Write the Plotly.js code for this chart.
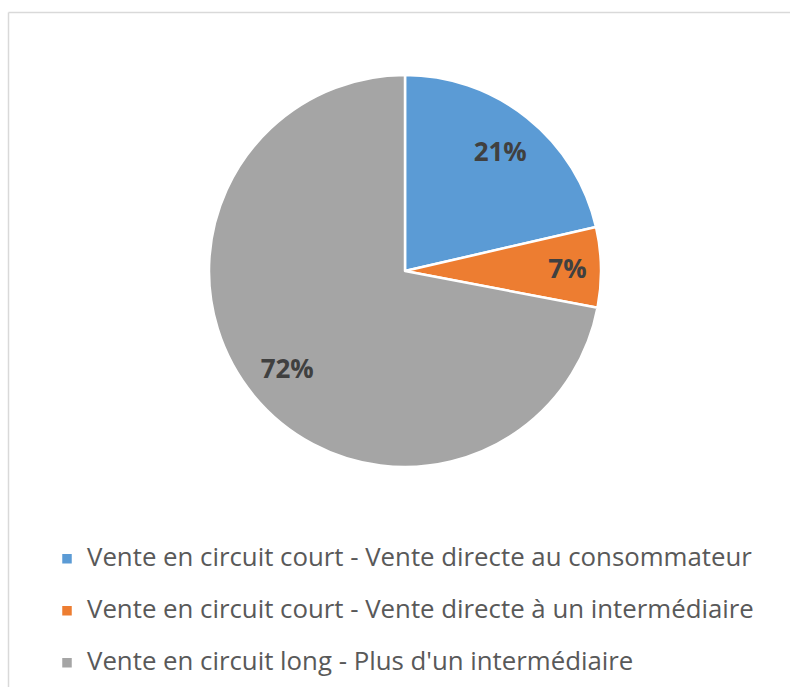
<!DOCTYPE html>
<html>
<head>
<meta charset="utf-8">
<script src="https://cdn.plot.ly/plotly-3.0.1.min.js"></script>
<style>html,body{margin:0;padding:0;background:#fff;}#chart{width:790px;height:687px;}</style>
</head>
<body>
<div id="chart"></div>
<script>
const categories = [
  "Vente en circuit court - Vente directe au consommateur",
  "Vente en circuit court - Vente directe à un intermédiaire",
  "Vente en circuit long - Plus d'un intermédiaire"
];
const shares = [21.4, 6.6, 72.0];
const sliceColors = ["#5B9BD5", "#ED7D31", "#A5A5A5"];

const legendLabels = categories.map(c => '<span style="font-size:25.8px">' + c + '</span><br> ');

const W = 790, H = 687;
const cx = 405, cy = 271, r = 196;
const pieDomain = {x: [(cx - r) / W, (cx + r) / W], y: [(H - cy - r) / H, (H - cy + r) / H]};

const pieTrace = {
  type: 'pie',
  labels: legendLabels,
  values: shares,
  sort: false,
  direction: 'clockwise',
  rotation: 0,
  marker: {colors: sliceColors, line: {color: '#FFFFFF', width: 2.5}},
  textinfo: 'none',
  hoverinfo: 'percent',
  domain: pieDomain
};

// transparent ring on top, only used to place the percentage labels
const labelTrace = {
  type: 'pie',
  labels: categories,
  values: shares,
  sort: false,
  direction: 'clockwise',
  rotation: 0,
  hole: 0.56,
  showlegend: false,
  marker: {colors: ['rgba(0,0,0,0)', 'rgba(0,0,0,0)', 'rgba(0,0,0,0)'], line: {width: 0}},
  texttemplate: '%{percent:.0%}',
  textposition: 'inside',
  insidetextorientation: 'horizontal',
  textfont: {family: 'Open Sans, sans-serif', size: 26, color: '#404040', weight: 'bold'},
  hoverinfo: 'skip',
  domain: pieDomain
};

const layout = {
  width: W, height: H,
  margin: {l: 0, r: 0, t: 0, b: 0, autoexpand: false},
  paper_bgcolor: '#FFFFFF',
  showlegend: true,
  legend: {
    x: 47 / W, xanchor: 'left', xref: 'paper',
    y: (H - 540) / H, yanchor: 'top', yref: 'paper',
    valign: 'top',
    font: {family: 'Open Sans, sans-serif', size: 18.85, color: '#595959'},
    bgcolor: 'rgba(0,0,0,0)'
  },
  shapes: [
    {type: 'line', xref: 'paper', yref: 'paper', x0: 8.5 / W, x1: 8.5 / W, y0: 0, y1: (H - 12.5) / H, line: {color: '#D9D9D9', width: 1.5}},
    {type: 'line', xref: 'paper', yref: 'paper', x0: 8.5 / W, x1: 1, y0: (H - 12.5) / H, y1: (H - 12.5) / H, line: {color: '#D9D9D9', width: 1.5}}
  ]
};

Plotly.newPlot('chart', [pieTrace, labelTrace], layout, {displayModeBar: false, staticPlot: true});
</script>
</body>
</html>
